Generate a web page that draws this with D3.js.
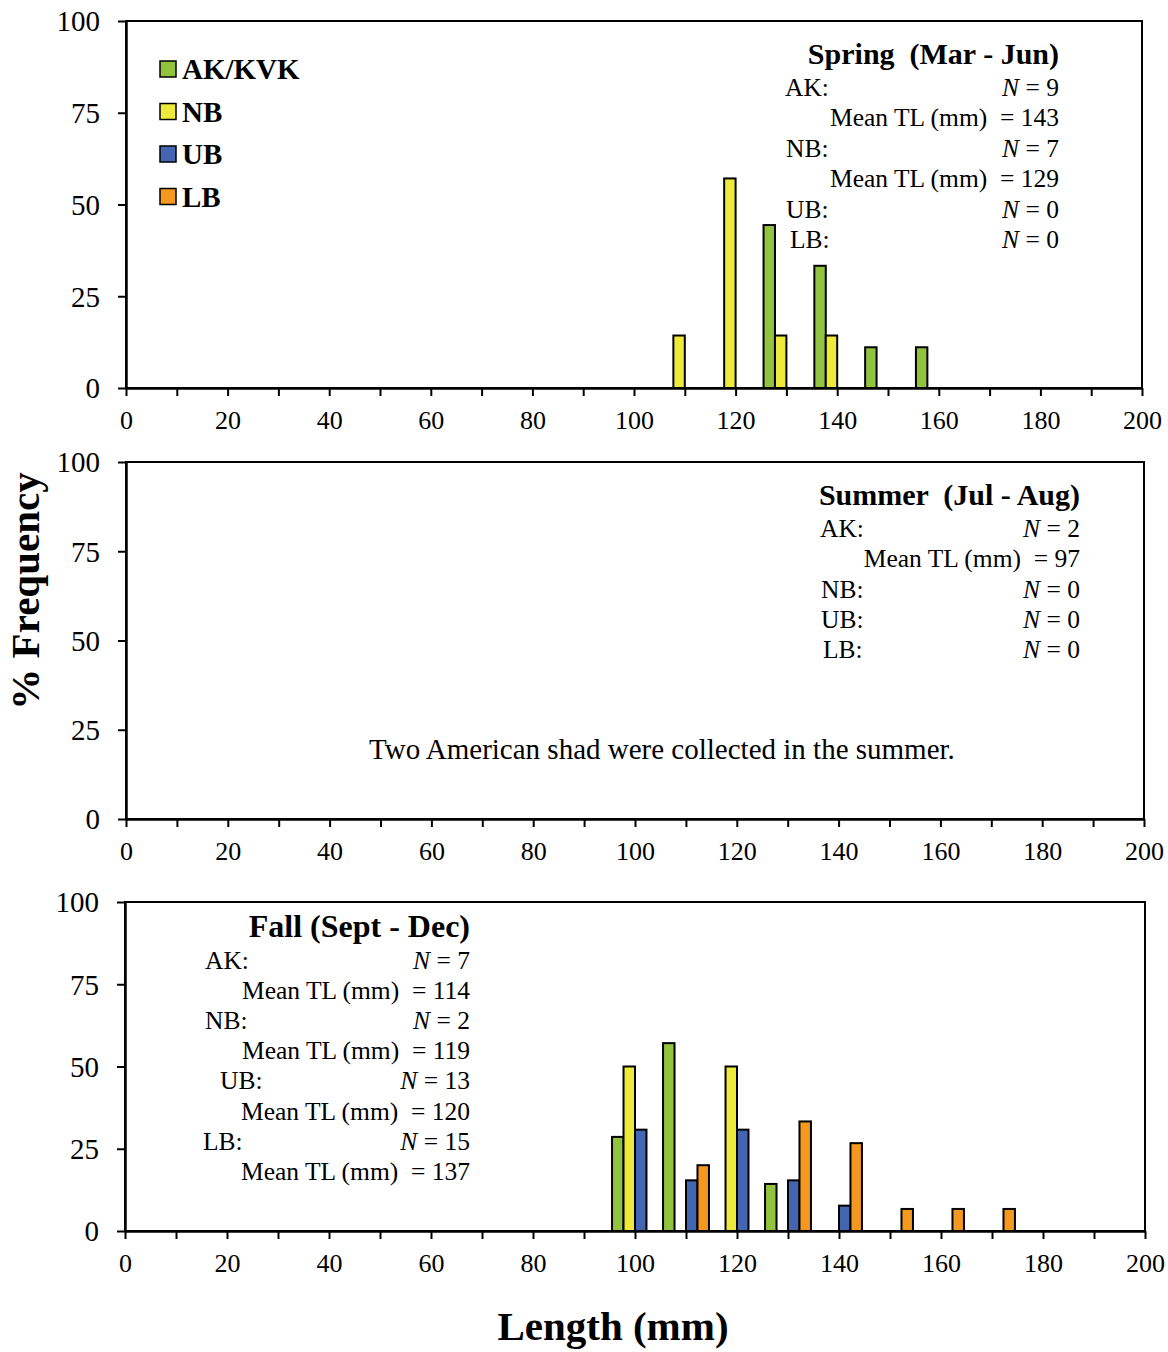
<!DOCTYPE html>
<html>
<head>
<meta charset="utf-8">
<script src="https://cdn.jsdelivr.net/npm/d3@7"></script>
<style>
  body { margin: 0; background: #fff; }
  text { font-family: "Liberation Serif", "Times New Roman", serif; fill: #000; white-space: pre; }
</style>
</head>
<body>
<div id="chart"></div>
<script>
// Data
const seriesNames = ['AK/KVK', 'NB', 'UB', 'LB'];
const seriesColors = ['#92C33E', '#EEEA3C', '#4466B0', '#F5981E'];
const xTicks = d3.range(0, 201, 10);
const yTicks = [0, 25, 50, 75, 100];

const springBins = [110, 120, 130, 140, 150, 160];
const springAK = [0, 0, 44.4, 33.3, 11.1, 11.1];
const springNB = [14.3, 57.1, 14.3, 14.3, 0, 0];
const springUB = [0, 0, 0, 0, 0, 0];
const springLB = [0, 0, 0, 0, 0, 0];

const summerBins = [];
const summerAK = [];
const summerNB = [];
const summerUB = [];
const summerLB = [];

const fallBins = [100, 110, 120, 130, 140, 150, 160, 170];
const fallAK = [28.6, 57.1, 0, 14.3, 0, 0, 0, 0];
const fallNB = [50, 0, 50, 0, 0, 0, 0, 0];
const fallUB = [30.8, 15.4, 30.8, 15.4, 7.7, 0, 0, 0];
const fallLB = [0, 20, 0, 33.3, 26.7, 6.7, 6.7, 6.7];

// Notes: [label, N] rows and mean rows
const springNotes = [['AK:', '9'], [null, '143'], ['NB:', '7'], [null, '129'], ['UB:', '0'], ['LB:', '0']];
const summerNotes = [['AK:', '2'], [null, '97'], ['NB:', '0'], ['UB:', '0'], ['LB:', '0']];
const fallNotes = [['AK:', '7'], [null, '114'], ['NB:', '2'], [null, '119'], ['UB:', '13'], [null, '120'], ['LB:', '15'], [null, '137']];

// Layout
const WIDTH = 1168;
const HEIGHT = 1352;

const panels = [
  {
    top: 21, bottom: 388, left: 126, right: 1142,
    bins: springBins, series: [springAK, springNB, springUB, springLB],
    title: 'Spring  (Mar - Jun)', titleX: 1059, titleY: 64, titleSize: 30,
    notes: springNotes, labelX: 785, labelDx: [0, 0, 1, 0, 1, 5], noteRight: 1059, noteY: 96, noteStep: 30.4,
    legend: true
  },
  {
    top: 462, bottom: 819, left: 126, right: 1144,
    bins: summerBins, series: [summerAK, summerNB, summerUB, summerLB],
    title: 'Summer  (Jul - Aug)', titleX: 1080, titleY: 505, titleSize: 30,
    notes: summerNotes, labelX: 820, labelDx: [0, 0, 1, 1, 3], noteRight: 1080, noteY: 537, noteStep: 30.3,
    message: 'Two American shad were collected in the summer.'
  },
  {
    top: 902, bottom: 1231, left: 125, right: 1145,
    bins: fallBins, series: [fallAK, fallNB, fallUB, fallLB],
    title: 'Fall (Sept - Dec)', titleX: 470, titleY: 937, titleSize: 32,
    notes: fallNotes, labelX: 205, labelDx: [0, 0, 0, 0, 15, 0, -2, 0], noteRight: 470, noteY: 969, noteStep: 30.1
  }
];

const svg = d3.select('#chart')
  .append('svg')
  .attr('width', WIDTH)
  .attr('height', HEIGHT);

panels.forEach(p => {
  const x = d3.scaleLinear().domain([0, 200]).range([p.left, p.right]);
  const y = d3.scaleLinear().domain([0, 100]).range([p.bottom, p.top]);
  const groupW = (x(10) - x(0)) * 0.9;
  const barW = groupW / 4;

  const g = svg.append('g');

  // Bars
  p.series.forEach((vals, si) => {
    const data = p.bins.map((b, i) => ({ bin: b, value: vals[i] })).filter(d => d.value > 0);
    g.selectAll(null)
      .data(data)
      .join('rect')
      .attr('x', d => x(d.bin) - groupW / 2 + si * barW)
      .attr('y', d => y(d.value))
      .attr('width', barW)
      .attr('height', d => y(0) - y(d.value))
      .attr('fill', seriesColors[si])
      .attr('stroke', '#000')
      .attr('stroke-width', 2);
  });

  // Plot border
  g.append('rect')
    .attr('x', p.left)
    .attr('y', p.top)
    .attr('width', p.right - p.left)
    .attr('height', p.bottom - p.top)
    .attr('fill', 'none')
    .attr('stroke', '#000')
    .attr('stroke-width', 2);

  // X axis
  const xAxis = g.append('g')
    .attr('transform', `translate(0,${p.bottom})`)
    .call(d3.axisBottom(x).tickValues(xTicks).tickSize(8).tickSizeOuter(0)
      .tickFormat(d => d % 20 === 0 ? d : ''));
  xAxis.select('.domain').attr('stroke-width', 2.5);
  xAxis.selectAll('.tick line').attr('stroke-width', 2);
  xAxis.selectAll('.tick text')
    .attr('y', 41).attr('dy', null)
    .style('font-size', '26px')
    .style('font-family', '"Liberation Serif", serif');

  // Y axis
  const yAxis = g.append('g')
    .attr('transform', `translate(${p.left},0)`)
    .call(d3.axisLeft(y).tickValues(yTicks).tickSize(8).tickSizeOuter(0).tickPadding(18));
  yAxis.select('.domain').attr('stroke-width', 2.5);
  yAxis.selectAll('.tick line').attr('stroke-width', 2);
  yAxis.selectAll('.tick text')
    .attr('dy', '0.34em')
    .style('font-size', '29px')
    .style('font-family', '"Liberation Serif", serif');

  // Title
  g.append('text')
    .attr('x', p.titleX)
    .attr('y', p.titleY)
    .attr('text-anchor', 'end')
    .style('font-size', p.titleSize + 'px')
    .style('font-weight', 'bold')
    .text(p.title);

  // Notes
  p.notes.forEach((row, i) => {
    const ty = p.noteY + i * p.noteStep;
    if (row[0]) {
      g.append('text')
        .attr('x', p.labelX + p.labelDx[i])
        .attr('y', ty)
        .style('font-size', '25.5px')
        .text(row[0]);
      const t = g.append('text')
        .attr('x', p.noteRight)
        .attr('y', ty)
        .attr('text-anchor', 'end')
        .style('font-size', '25.5px');
      t.append('tspan').style('font-style', 'italic').text('N');
      t.append('tspan').text(' = ' + row[1]);
    } else {
      g.append('text')
        .attr('x', p.noteRight)
        .attr('y', ty)
        .attr('text-anchor', 'end')
        .style('font-size', '25.5px')
        .text('Mean TL (mm)  = ' + row[1]);
    }
  });

  if (p.message) {
    g.append('text')
      .attr('x', 369)
      .attr('y', 759)
      .style('font-size', '29px')
      .text(p.message);
  }

  if (p.legend) {
    const leg = g.append('g');
    seriesNames.forEach((name, i) => {
      const cy = 69 + i * 42.5;
      leg.append('rect')
        .attr('x', 160)
        .attr('y', cy - 8)
        .attr('width', 16)
        .attr('height', 16)
        .attr('fill', seriesColors[i])
        .attr('stroke', '#000')
        .attr('stroke-width', 1.5);
      leg.append('text')
        .attr('x', 182)
        .attr('y', cy + 10)
        .style('font-size', '29px')
        .style('font-weight', 'bold')
        .text(name);
    });
  }
});

// Axis titles
svg.append('text')
  .attr('transform', 'translate(39,591) rotate(-90)')
  .attr('text-anchor', 'middle')
  .style('font-size', '41px')
  .style('font-weight', 'bold')
  .text('% Frequency');

svg.append('text')
  .attr('x', 613)
  .attr('y', 1340)
  .attr('text-anchor', 'middle')
  .style('font-size', '41px')
  .style('font-weight', 'bold')
  .text('Length (mm)');
</script>
</body>
</html>
